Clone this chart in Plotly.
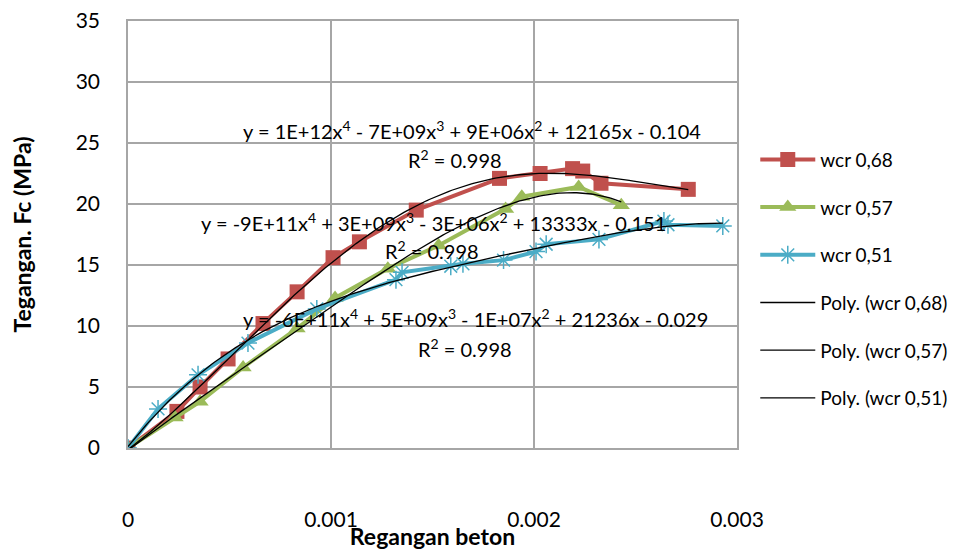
import numpy as np
import plotly.graph_objects as go

# ---- data ----
x_068 = [0, 0.000241, 0.000355, 0.000493, 0.000665, 0.000833, 0.00101, 0.00114,
         0.00142, 0.00183, 0.00203, 0.00219, 0.00224, 0.00233, 0.00276]
y_068 = [0, 3.0, 5.0, 7.3, 10.2, 12.8, 15.6, 16.9, 19.5, 22.1, 22.5, 22.9, 22.7, 21.7, 21.2]

x_057 = [0, 0.000232, 0.000355, 0.000567, 0.000833, 0.00102, 0.00128, 0.00153,
         0.00186, 0.00194, 0.00222, 0.00243]
y_057 = [0, 2.5, 3.8, 6.6, 9.8, 12.3, 14.7, 16.6, 19.6, 20.6, 21.4, 19.9]

x_051 = [0, 0.000148, 0.000345, 0.000591, 0.00093, 0.00132, 0.00135, 0.00159,
         0.00165, 0.00185, 0.00201, 0.00206, 0.00232, 0.00264, 0.00266, 0.00293]
y_051 = [0, 3.2, 6.0, 8.6, 11.4, 13.8, 14.4, 14.9, 15.1, 15.4, 16.1, 16.7, 17.1, 18.6, 18.3, 18.2]

names = ["wcr 0,68", "wcr 0,57", "wcr 0,51"]
eq_texts = [
    "y = 1E+12x<sup>4</sup> - 7E+09x<sup>3</sup> + 9E+06x<sup>2</sup> + 12165x - 0.104",
    "y = -9E+11x<sup>4</sup> + 3E+09x<sup>3</sup> - 3E+06x<sup>2</sup> + 13333x - 0.151",
    "y = -6E+11x<sup>4</sup> + 5E+09x<sup>3</sup> - 1E+07x<sup>2</sup> + 21236x - 0.029",
]
r2_text = "R<sup>2</sup> = 0.998"
x_ticks = [0, 0.001, 0.002, 0.003]
y_ticks = [0, 5, 10, 15, 20, 25, 30, 35]

FONT = "Lato, 'Liberation Sans Narrow', sans-serif"
colors = ["#C0504D", "#9BBB59", "#4BACC6"]
symbols = ["square", "triangle-up", "asterisk-open"]

series = [(x_068, y_068), (x_057, y_057), (x_051, y_051)]

fig = go.Figure()
for i, ((xs, ys), nm, c, s) in enumerate(zip(series, names, colors, symbols)):
    mk = dict(symbol=s, size=15, color=c)
    if s == "asterisk-open":
        mk = dict(symbol=s, size=15, color=c, line=dict(color=c, width=1.5))
    fig.add_trace(go.Scatter(x=xs, y=ys, name=nm, mode="lines+markers",
                             legendgroup=f"g{i}",
                             line=dict(color=c, width=4), marker=mk))

# 4th-order polynomial trendlines fitted to each series
for i, ((xs, ys), nm) in enumerate(zip(series, names)):
    xa = np.array(xs)
    coef = np.polyfit(xa, np.array(ys), 4)
    xf = np.linspace(0, xa.max(), 200)
    fig.add_trace(go.Scatter(x=xf, y=np.polyval(coef, xf), name=f"Poly. ({nm})",
                             legendgroup=f"p{i}",
                             mode="lines", line=dict(color="black", width=1.3)))

ann_pos = [((0.565, 0.745), (0.537, 0.677)),
           ((0.501, 0.529), (0.499, 0.464)),
           ((0.571, 0.304), (0.553, 0.234))]
annotations = []
for t, (p1, p2) in zip(eq_texts, ann_pos):
    for txt, p in ((t, p1), (r2_text, p2)):
        annotations.append(dict(text=txt, x=p[0], y=p[1], xref="paper", yref="paper",
                                xanchor="center", yanchor="middle",
                                showarrow=False, font=dict(size=20, color="black", family=FONT)))

fig.update_layout(
    width=966, height=550,
    margin=dict(l=128, r=229, t=21, b=102),
    paper_bgcolor="white", plot_bgcolor="white",
    font=dict(family=FONT, color="black"),
    annotations=annotations,
    legend=dict(x=1.03, y=0.72, xanchor="left", yanchor="top",
                font=dict(size=19, family=FONT, color="black"),
                tracegroupgap=20, itemwidth=55, bgcolor="rgba(0,0,0,0)"),
    xaxis=dict(range=[0, 0.003], tickvals=x_ticks, ticktext=["0", "0.001", "0.002", "0.003"],
               automargin=False,
               showgrid=True, gridcolor="#a6a6a6", gridwidth=1.5,
               showline=True, linecolor="#a6a6a6", linewidth=1.5, mirror=True,
               zeroline=False, ticks="", ticklabelstandoff=52,
               tickfont=dict(size=21, family=FONT),
               title=dict(text="<b>Regangan beton</b>", font=dict(size=23, family=FONT), standoff=0)),
    yaxis=dict(range=[0, 35], tickvals=y_ticks,
               automargin=False,
               showgrid=True, gridcolor="#a6a6a6", gridwidth=1.5,
               showline=True, linecolor="#a6a6a6", linewidth=1.5, mirror=True,
               zeroline=False, ticks="", ticklabelstandoff=22,
               tickfont=dict(size=21, family=FONT),
               title=dict(text="<b>Tegangan. Fc (MPa)</b>", font=dict(size=23, family=FONT), standoff=38)),
)

fig.write_html("out.html")
